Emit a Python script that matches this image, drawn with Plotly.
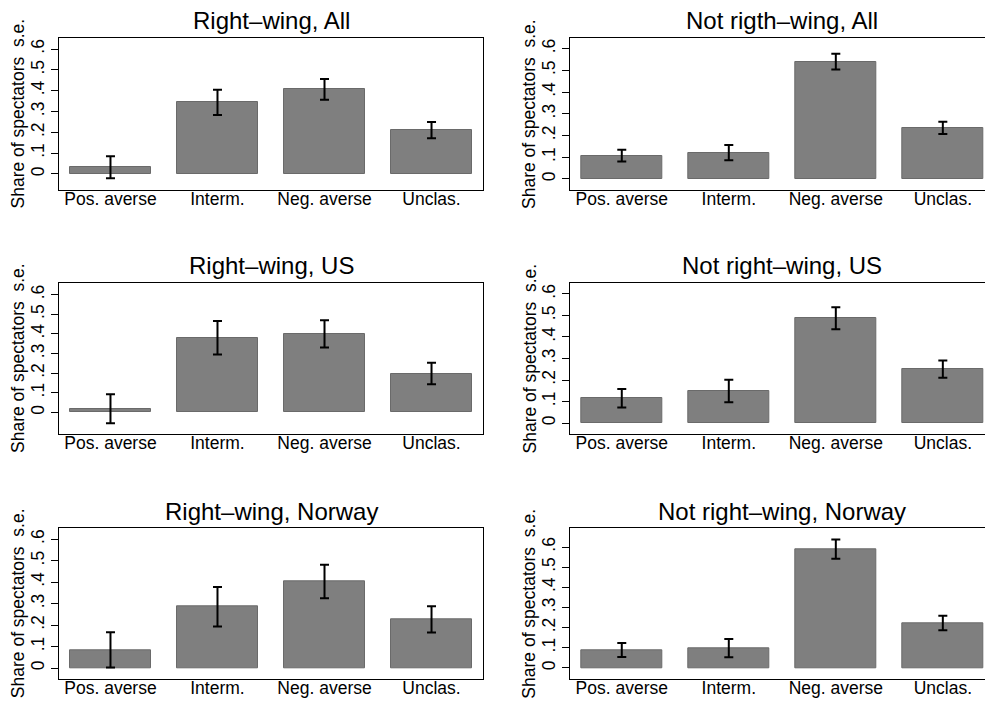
import plotly.graph_objects as go

W, H = 985, 702

categories = ["Pos. averse", "Interm.", "Neg. averse", "Unclas."]

titles = [
    "Right–wing, All", "Not rigth–wing, All",
    "Right–wing, US", "Not right–wing, US",
    "Right–wing, Norway", "Not right–wing, Norway",
]

share_rw_all = [0.032, 0.344, 0.406, 0.211]
se_rw_all = [0.053, 0.061, 0.050, 0.039]
share_nrw_all = [0.107, 0.121, 0.540, 0.235]
se_nrw_all = [0.027, 0.035, 0.036, 0.028]
share_rw_us = [0.019, 0.380, 0.400, 0.198]
se_rw_us = [0.074, 0.085, 0.069, 0.055]
share_nrw_us = [0.115, 0.149, 0.487, 0.251]
se_nrw_us = [0.043, 0.052, 0.051, 0.040]
share_rw_no = [0.085, 0.286, 0.403, 0.227]
se_rw_no = [0.082, 0.092, 0.078, 0.061]
share_nrw_no = [0.089, 0.098, 0.590, 0.223]
se_nrw_no = [0.035, 0.045, 0.048, 0.036]

y_tickvals = [0, 0.1, 0.2, 0.3, 0.4, 0.5, 0.6]
y_ticktext = ["0", ".1", ".2", ".3", ".4", ".5", ".6"]
y_title = "Share of spectators  s.e."

shares = [share_rw_all, share_nrw_all, share_rw_us, share_nrw_us, share_rw_no, share_nrw_no]
ses = [se_rw_all, se_nrw_all, se_rw_us, se_nrw_us, se_rw_no, se_nrw_no]

# layout geometry (pixels)
col_x = [(59, 483), (570.3, 985)]
col_xrange = [[-0.481, 3.481], [-0.481, 3.394]]
col_center = [271, 782.3]
col_ytitle_x = [17.5, 529]
row_y = [(38, 190), (283, 434), (528.3, 679)]
title_y = [20.5, 265.5, 511]
y_ranges = [[-0.077, 0.653], [-0.051, 0.649], [-0.110, 0.659],
            [-0.051, 0.651], [-0.051, 0.651], [-0.055, 0.693]]

FONT = "Liberation Sans, Arial, Helvetica, sans-serif"
fig = go.Figure()
annotations = []
for i in range(6):
    r, c = divmod(i, 2)
    ax = "" if i == 0 else str(i + 1)
    fig.add_trace(go.Bar(
        x=categories, y=shares[i],
        xaxis="x" + ax, yaxis="y" + ax,
        width=0.757,
        marker=dict(color="#7f7f7f", line=dict(color="#6a6a6a", width=1)),
        error_y=dict(type="data", array=ses[i], visible=True,
                     color="black", thickness=2, width=4.5),
        showlegend=False,
    ))
    x0, x1 = col_x[c]
    ytop, ybot = row_y[r]
    fig.layout["xaxis" + ax] = dict(
        domain=[x0 / W, x1 / W], range=col_xrange[c], anchor="y" + ax,
        type="category", showline=True, linecolor="black", linewidth=1,
        mirror=True, ticks="", showgrid=False, zeroline=False,
        ticklabelstandoff=-7,
        tickfont=dict(size=17.5, color="black", family=FONT),
        fixedrange=True,
    )
    fig.layout["yaxis" + ax] = dict(
        domain=[1 - ybot / H, 1 - ytop / H], range=y_ranges[i], anchor="x" + ax,
        showline=True, linecolor="black", linewidth=1, mirror=(c == 0),
        ticks="outside", ticklen=7, tickwidth=1, tickcolor="black",
        tickvals=y_tickvals, ticktext=y_ticktext, tickangle=-90,
        showgrid=False, zeroline=False,
        tickfont=dict(size=17.5, color="black", family=FONT),
        fixedrange=True,
    )
    annotations.append(dict(
        text=titles[i], x=col_center[c] / W, y=1 - title_y[r] / H,
        xref="paper", yref="paper", xanchor="center", yanchor="middle",
        showarrow=False, font=dict(size=24, color="black", family=FONT),
    ))
    annotations.append(dict(
        text=y_title, x=col_ytitle_x[c] / W, y=1 - (ytop + ybot) / 2 / H,
        xref="paper", yref="paper", xanchor="center", yanchor="middle",
        textangle=-90, showarrow=False,
        font=dict(size=17.5, color="black", family=FONT),
    ))

fig.update_layout(
    width=W, height=H,
    margin=dict(l=0, r=0, t=0, b=0),
    paper_bgcolor="white", plot_bgcolor="white",
    annotations=annotations,
    font=dict(family=FONT, color="black"),
    bargap=0,
    hovermode=False,
)
fig.write_html(
    "out.html",
    config={"displayModeBar": False},
    post_script="document.body.style.margin='0';document.body.style.overflow='hidden';",
)
